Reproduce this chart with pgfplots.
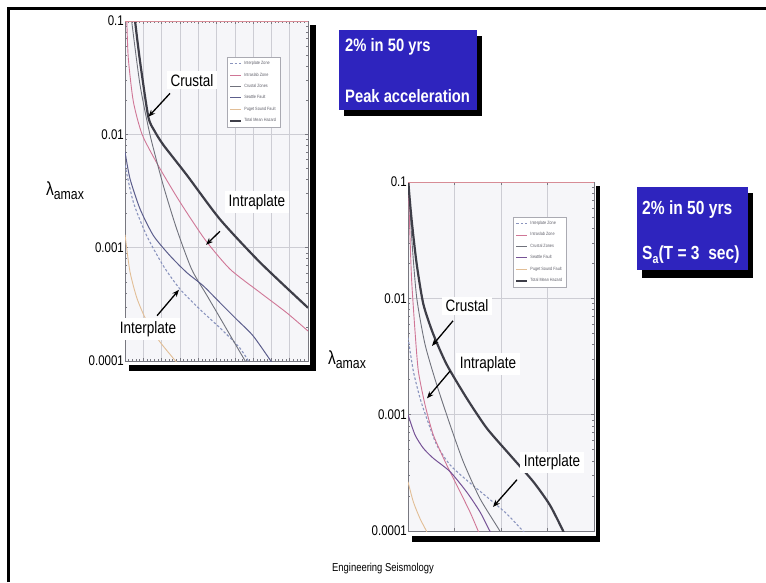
\documentclass[border=0pt]{standalone}
\usepackage{fontspec}
\setmainfont{Liberation Sans}[FakeStretch=0.82]
\usepackage{graphicx}
\usepackage{pgfplots}
\pgfplotsset{compat=1.18}
\usetikzlibrary{arrows.meta}

\definecolor{plotbg}{RGB}{246,246,249}
\definecolor{gridc}{RGB}{205,205,212}
\definecolor{framec}{RGB}{120,120,128}
\definecolor{tmh}{RGB}{62,62,72}
\definecolor{crus}{RGB}{112,114,124}
\definecolor{slab}{RGB}{208,118,150}
\definecolor{seat}{RGB}{92,94,140}
\definecolor{seatR}{RGB}{118,82,150}
\definecolor{inter}{RGB}{138,148,190}
\definecolor{puget}{RGB}{226,190,150}
\definecolor{topl}{RGB}{215,140,150}
\definecolor{boxblue}{RGB}{46,36,190}
\definecolor{legc}{RGB}{170,170,178}
\definecolor{legtext}{RGB}{95,95,105}

\newcommand{\tickfont}{\fontsize{14}{15}\selectfont}
\newcommand{\labfont}{\fontsize{16.5}{18}\selectfont}
\newcommand{\legfont}{\fontsize{4.6}{5}\selectfont}

\tikzset{annot/.style={fill=white, inner xsep=4pt, inner ysep=3pt, font=\labfont}}

\begin{document}
\begin{tikzpicture}[x=1pt,y=1pt]
\useasboundingbox (0,0) rectangle (766,582);
% slide frame
\draw[line width=3pt] (8.5,0) -- (8.5,573.5) -- (766,573.5);

% shadows
\fill[black] (129,211) rectangle (316,557);
\fill[white] (120,217) rectangle (310,566);
\fill[black] (412,40) rectangle (600,396);
\fill[white] (400,46) rectangle (595.5,405);

% ---------- left axis ----------
\begin{axis}[at={(125pt,221pt)}, anchor=south west,
  scale only axis, width=183pt, height=340pt,
  ymode=log, xmin=0, xmax=1, ymin=1e-4, ymax=0.1,
  clip mode=individual,
  ytick={0.0001,0.001,0.01,0.1},
  yticklabels={0.0001,0.001,0.01,0.1},
  minor ytick={2e-4,3e-4,4e-4,5e-4,6e-4,7e-4,8e-4,9e-4,2e-3,3e-3,4e-3,5e-3,6e-3,7e-3,8e-3,9e-3,2e-2,3e-2,4e-2,5e-2,6e-2,7e-2,8e-2,9e-2},
  xtick={0,0.1,0.2,0.3,0.4,0.5,0.6,0.7,0.8,0.9,1},
  minor x tick num=4,
  xticklabels={},
  grid=major,
  major grid style={draw=gridc, line width=0.6pt},
  axis line style={draw=framec, line width=0.8pt},
  tick style={draw=framec, line width=0.5pt},
  major tick length=3pt, minor tick length=1.8pt,
  tick align=inside,
  yticklabel style={font=\tickfont, inner sep=1pt},
  /pgf/number format/assume math mode=true,
  axis background/.style={fill=plotbg},
  legend cell align=left,
  legend image code/.code={\draw[#1] (0pt,0pt) -- (11pt,0pt);},
  legend style={font=\legfont, draw=legc, fill=white, text=legtext,
    inner sep=2pt, row sep=2.6pt, anchor=north west, at={(0.557,0.894)}},
  ]
\addplot[inter, line width=1.1pt, dash pattern=on 2.5pt off 2pt, smooth, tension=0.4] coordinates {
 (0,0.00535) (0.0455,0.00252) (0.118,0.00128) (0.209,0.000693) (0.301,0.000430)
 (0.410,0.000285) (0.519,0.000196) (0.628,0.000130) (0.692,0.0000897)};
\addlegendentry{Interplate Zone}
\addplot[slab, line width=0.9pt, smooth, tension=0.4] coordinates {
 (0.01,0.1) (0.018,0.047) (0.0455,0.0195) (0.0948,0.00986) (0.191,0.00499)
 (0.301,0.00252) (0.437,0.00118) (0.574,0.000646) (0.738,0.000402) (0.883,0.000267) (1.0,0.000184)};
\addlegendentry{Intraslab Zone}
\addplot[crus, line width=0.9pt, smooth, tension=0.4] coordinates {
 (0.03,0.13) (0.0364,0.1) (0.082,0.0274) (0.137,0.00986) (0.209,0.00355) (0.282,0.00147)
 (0.364,0.000646) (0.446,0.000383) (0.519,0.000241) (0.592,0.000151) (0.674,0.0000897)};
\addlegendentry{Crustal Zones}
\addplot[seat, line width=1pt, smooth, tension=0.4] coordinates {
 (0,0.00702) (0.0273,0.00406) (0.082,0.00220) (0.155,0.00128) (0.246,0.000849)
 (0.337,0.000604) (0.428,0.000460) (0.519,0.000327) (0.610,0.000233) (0.701,0.000166) (0.811,0.0000927)};
\addlegendentry{Seattle Fault}
\addplot[puget, line width=0.9pt, smooth, tension=0.4] coordinates {
 (0,0.0013) (0.027,0.000616) (0.066,0.000355) (0.12,0.000222) (0.19,0.000148) (0.30,0.00009)};
\addlegendentry{Puget Sound Fault}
\addplot[tmh, line width=2.2pt, smooth, tension=0.4] coordinates {
 (0.045,0.15) (0.055,0.1) (0.082,0.0442) (0.127,0.01436) (0.16,0.0108) (0.209,0.00809)
 (0.337,0.00439) (0.519,0.00178) (0.738,0.000741) (1.0,0.000295)};
\addlegendentry{Total Mean Hazard}
\addplot[topl, line width=1pt, forget plot] coordinates {(0,0.1) (1,0.1)};

\draw[line width=1.3pt, -{Stealth[length=7pt,width=5.5pt]}] (axis cs:0.246,0.0230) -- (axis cs:0.128,0.0143);
\node[annot] at (axis cs:0.366,0.0299) {Crustal};
\draw[line width=1.3pt, -{Stealth[length=7pt,width=5.5pt]}] (axis cs:0.519,0.001396) -- (axis cs:0.443,0.00106);
\node[annot] at (axis cs:0.721,0.00252) {Intraplate};
\draw[line width=1.3pt, -{Stealth[length=7pt,width=5.5pt]}] (axis cs:0.175,0.000251) -- (axis cs:0.295,0.000425);
\node[annot] at (axis cs:0.126,0.000192) {Interplate};
\end{axis}

% ---------- right axis ----------
\begin{axis}[at={(408pt,51pt)}, anchor=south west,
  scale only axis, width=186pt, height=349pt,
  ymode=log, xmin=0, xmax=1, ymin=1e-4, ymax=0.1,
  clip mode=individual,
  ytick={0.0001,0.001,0.01,0.1},
  yticklabels={0.0001,0.001,0.01,0.1},
  minor ytick={2e-4,3e-4,4e-4,5e-4,6e-4,7e-4,8e-4,9e-4,2e-3,3e-3,4e-3,5e-3,6e-3,7e-3,8e-3,9e-3,2e-2,3e-2,4e-2,5e-2,6e-2,7e-2,8e-2,9e-2},
  xtick={0,0.25,0.5,0.75,1},
  xticklabels={},
  grid=major,
  major grid style={draw=gridc, line width=0.6pt},
  axis line style={draw=framec, line width=0.8pt},
  tick style={draw=framec, line width=0.5pt},
  major tick length=3pt, minor tick length=1.8pt,
  tick align=inside,
  yticklabel style={font=\tickfont, inner sep=1pt},
  /pgf/number format/assume math mode=true,
  axis background/.style={fill=plotbg},
  legend cell align=left,
  legend image code/.code={\draw[#1] (0pt,0pt) -- (11pt,0pt);},
  legend style={font=\legfont, draw=legc, fill=white, text=legtext,
    inner sep=2pt, row sep=2.6pt, anchor=north west, at={(0.565,0.9)}},
  ]
\addplot[inter, line width=1.1pt, dash pattern=on 2.5pt off 2pt, smooth, tension=0.4] coordinates {
 (0,0.0046) (0.0287,0.00237) (0.0645,0.00139) (0.1,0.000936) (0.154,0.000551) (0.226,0.00037)
 (0.315,0.000274) (0.423,0.000197) (0.53,0.000141) (0.62,0.0000993) (0.65,0.00009)};
\addlegendentry{Interplate Zone}
\addplot[slab, line width=0.9pt, smooth, tension=0.4] coordinates {
 (0,0.12) (0.0108,0.0336) (0.0197,0.01422) (0.0376,0.00525) (0.0556,0.00237) (0.0914,0.00122)
 (0.136,0.000671) (0.208,0.00037) (0.28,0.000217) (0.333,0.000146) (0.378,0.0000993) (0.40,0.00008)};
\addlegendentry{Intraslab Zone}
\addplot[crus, line width=0.9pt, smooth, tension=0.4] coordinates {
 (0,0.13) (0.0197,0.0336) (0.0466,0.0102) (0.0914,0.00403) (0.154,0.00182) (0.226,0.00082)
 (0.297,0.000395) (0.387,0.00019) (0.495,0.0000993) (0.52,0.00008)};
\addlegendentry{Crustal Zones}
\addplot[seatR, line width=1pt, smooth, tension=0.4] coordinates {
 (0,0.001) (0.0376,0.000671) (0.0824,0.000515) (0.136,0.000422) (0.226,0.000324)
 (0.315,0.000217) (0.387,0.000146) (0.441,0.0000993) (0.46,0.00009)};
\addlegendentry{Seattle Fault}
\addplot[puget, line width=0.9pt, smooth, tension=0.4] coordinates {
 (0,0.000265) (0.0287,0.000178) (0.0645,0.000128) (0.1,0.0000993) (0.11,0.00009)};
\addlegendentry{Puget Sound Fault}
\addplot[tmh, line width=2.2pt, smooth, tension=0.4] coordinates {
 (0,0.15) (0.0018,0.1) (0.0197,0.0469) (0.0466,0.0198) (0.0824,0.00893) (0.136,0.00492)
 (0.208,0.00270) (0.315,0.00139) (0.423,0.000767) (0.548,0.000451) (0.674,0.000265)
 (0.763,0.000167) (0.835,0.0000993) (0.86,0.00008)};
\addlegendentry{Total Mean Hazard}
\addplot[topl, line width=1pt, forget plot] coordinates {(0,0.1) (1,0.1)};

\draw[line width=1.3pt, -{Stealth[length=7pt,width=5.5pt]}] (axis cs:0.242,0.00641) -- (axis cs:0.129,0.0039);
\node[annot] at (axis cs:0.317,0.00865) {Crustal};
\draw[line width=1.3pt, -{Stealth[length=7pt,width=5.5pt]}] (axis cs:0.226,0.00237) -- (axis cs:0.102,0.00138);
\node[annot] at (axis cs:0.430,0.00272) {Intraplate};
\draw[line width=1.3pt, -{Stealth[length=7pt,width=5.5pt]}] (axis cs:0.586,0.000276) -- (axis cs:0.457,0.000161);
\node[annot] at (axis cs:0.774,0.000387) {Interplate};
\end{axis}

% y labels
\node at (65,391) {\fontsize{19}{20}\selectfont λ\raisebox{-4pt}{\fontsize{15}{15}\selectfont amax}};
\node at (347,222) {\fontsize{19}{20}\selectfont λ\raisebox{-4pt}{\fontsize{15}{15}\selectfont amax}};

% blue boxes
\fill[black] (344,466) rectangle (482,546);
\fill[boxblue] (339,472) rectangle (477,552);
\node[anchor=west, text=white, inner sep=0pt, font=\fontsize{18}{20}\selectfont\bfseries] at (345,535) {2\% in 50 yrs};
\node[anchor=west, text=white, inner sep=0pt, font=\fontsize{18}{20}\selectfont\bfseries] at (345,486) {Peak acceleration};

\fill[black] (642,304) rectangle (753,389);
\fill[boxblue] (637,312) rectangle (748,395);
\node[anchor=west, text=white, inner sep=0pt, font=\fontsize{19}{21}\selectfont\bfseries] at (642,372) {2\% in 50 yrs};
\node[anchor=west, text=white, inner sep=0pt, font=\fontsize{19}{21}\selectfont\bfseries] at (642,327) {S\raisebox{-4pt}{\fontsize{13}{13}\selectfont a}(T = 3~ sec)};

% footer
\node[font=\fontsize{11.5}{12}\selectfont] at (383,13) {Engineering Seismology};
\end{tikzpicture}
\end{document}
